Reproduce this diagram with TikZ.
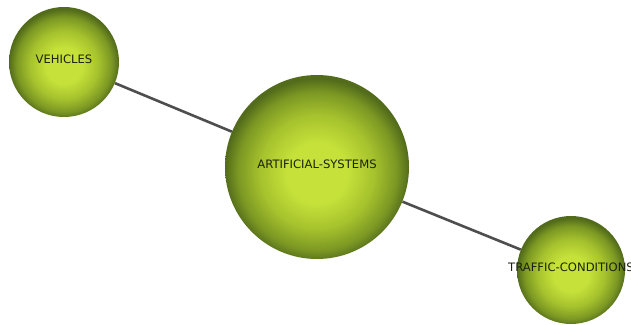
\documentclass[tikz,border=0pt]{standalone}
\usepackage{fontspec}
\newfontfamily\labelfont{DejaVu Sans}
\definecolor{orbin}{HTML}{C6E23A}
\definecolor{orbmid}{HTML}{A6C22D}
\definecolor{orbdeep}{HTML}{7C9823}
\definecolor{orbout}{HTML}{536C1B}
\definecolor{linkgray}{HTML}{4E4E4E}
\definecolor{labelink}{HTML}{1C220E}
\pgfdeclareradialshading{orb}{\pgfpoint{0bp}{-2bp}}{color(0bp)=(orbin); color(8bp)=(orbin); color(15.5bp)=(orbmid); color(21.5bp)=(orbdeep); color(25bp)=(orbout); color(50bp)=(orbout)}

\begin{document}
\begin{tikzpicture}[x=1pt,y=1pt,
    orb/.style={circle,shading=orb,inner sep=0pt},
    orbtext/.style={text=labelink,inner sep=0pt,yshift=3pt,
      font=\labelfont\fontsize{11.6}{13}\selectfont},
    link/.style={linkgray,line width=2.6pt}]
  \useasboundingbox (0,0) rectangle (631,324);
  % nodes
  \node[orb,minimum size=110pt,label={[orbtext]center:VEHICLES}] (vehicles) at (64,262){};
  \node[orb,minimum size=184pt,label={[orbtext]center:ARTIFICIAL-SYSTEMS}] (artificial) at (317,157){};
  \node[orb,minimum size=108pt,label={[orbtext]center:TRAFFIC-CONDITIONS}] (traffic) at (571,54){};
  % links
  \draw[link] (vehicles) -- (artificial);
  \draw[link] (artificial) -- (traffic);
\end{tikzpicture}
\end{document}
